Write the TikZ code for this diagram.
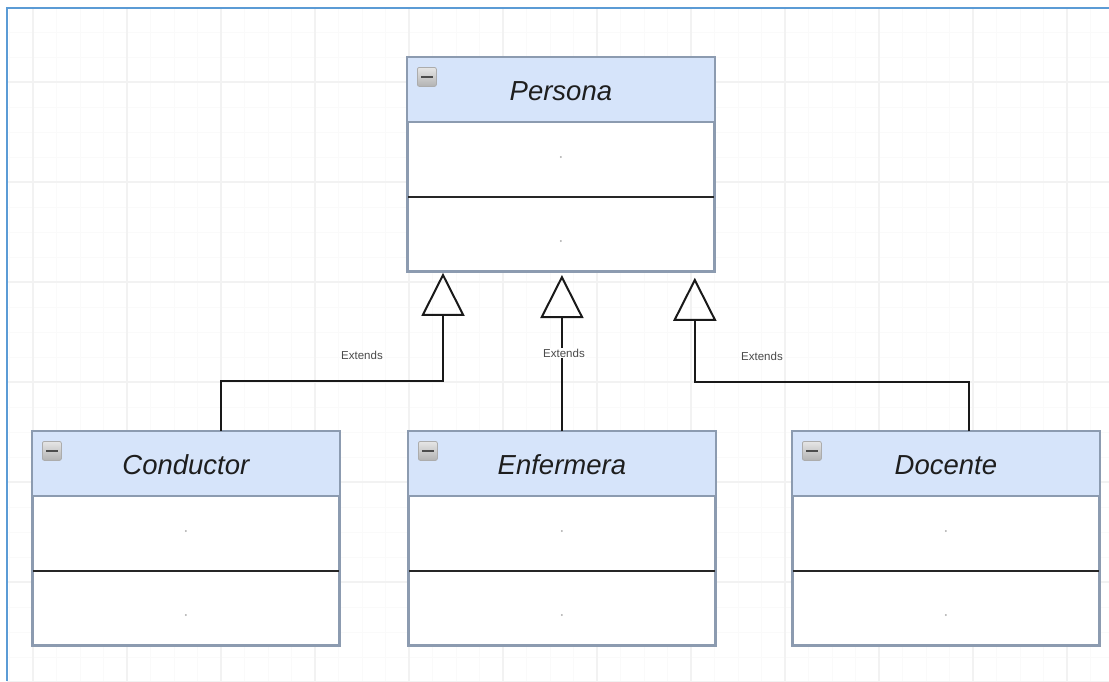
\documentclass[tikz,border=0pt]{standalone}
\usepackage{fontspec}
\setmainfont{Liberation Sans}
\usetikzlibrary{arrows.meta,calc}

\definecolor{headfill}{HTML}{D6E4FA}
\definecolor{boxline}{HTML}{8C9BB0}
\definecolor{framecol}{HTML}{5B9BD5}
\definecolor{textcol}{HTML}{1E1E1E}
\definecolor{labelcol}{HTML}{4A4A4A}

\tikzset{
  classbox/.style={draw=boxline, line width=1.8pt, fill=white, rectangle,
    minimum width=306pt, minimum height=213pt, inner sep=0pt, anchor=north west},
  headband/.style={fill=headfill},
  headline/.style={draw=boxline, line width=1.5pt},
  divider/.style={draw=black!85, line width=2pt},
  classtitle/.style={font=\fontsize{27.5}{30}\selectfont\itshape, text=textcol, inner sep=0pt},
  collapse/.style={rectangle, rounded corners=2pt, minimum size=19pt, inner sep=0pt,
    anchor=north west, top color=gray!20, bottom color=gray!60, draw=gray!65, line width=0.8pt},
  collapsedash/.style={draw=black!70, line width=2.4pt},
  slotdot/.style={fill=gray!70, circle, inner sep=0pt, minimum size=2pt},
  conn/.style={draw=black!90, line width=2pt},
  gen/.style={conn, -{Triangle[open, length=43pt, width=43pt, line width=2pt]}},
  extlabel/.style={font=\fontsize{11.5}{12}\selectfont, text=labelcol, inner sep=1pt},
  minorgrid/.style={draw=gray!4, line width=1pt},
  majorgrid/.style={draw=gray!10, line width=1.6pt},
  framebar/.style={draw=framecol, line width=2.2pt}
}

% one UML class: name, left, top, title
\newcommand\umlbox[4]{%
  \node[classbox] (#1) at (#2,#3) {};
  \fill[headband] (#1.north west) rectangle ($(#1.north east)+(0,65)$);
  \draw[headline] ($(#1.north west)+(0,65)$) -- ($(#1.north east)+(0,65)$);
  \draw[divider] ($(#1.north west)+(0,140)$) -- ($(#1.north east)+(0,140)$);
  \draw[draw=boxline, line width=1.8pt] (#1.north west) rectangle (#1.south east);
  \node[classtitle] (#1-title) at ($(#1.north)+(0,34)$) {#4};
  \node[collapse] (#1-icon) at ($(#1.north west)+(10,10)$) {};
  \draw[collapsedash] ($(#1-icon.west)+(4,0)$) -- ($(#1-icon.east)+(-4,0)$);
  \node[slotdot] (#1-attr) at ($(#1.north)+(0,100)$) {};
  \node[slotdot] (#1-ops) at ($(#1.north)+(0,184)$) {};
}

\begin{document}
\begin{tikzpicture}[x=1pt, y=-1pt]
  \useasboundingbox (0,0) rectangle (1109,681);
  \fill[white] (0,0) rectangle (1109,681);

  % background grid
  \foreach \gx in {0,...,46} { \draw[minorgrid] ({9.5+23.5*\gx},8) -- ({9.5+23.5*\gx},681); }
  \foreach \gy in {0,...,27} { \draw[minorgrid] (7,{7+25*\gy}) -- (1109,{7+25*\gy}); }
  \foreach \gx in {0,...,11} { \draw[majorgrid] ({33+94*\gx},8) -- ({33+94*\gx},681); }
  \foreach \gy in {0,...,6} { \draw[majorgrid] (7,{82+100*\gy}) -- (1109,{82+100*\gy}); }

  % page frame
  \draw[framebar] (7,681) -- (7,8) -- (1109,8);

  % classes
  \umlbox{persona}{407}{57}{Persona}
  \umlbox{conductor}{32}{431}{Conductor}
  \umlbox{enfermera}{408}{431}{Enfermera}
  \umlbox{docente}{792}{431}{Docente}

  % generalisation connectors
  \coordinate (tipL) at ($(persona.south west)+(36,1)$);
  \coordinate (tipM) at ($(enfermera.north)+(0,-156)$);
  \coordinate (tipR) at ($(persona.south east)+(-20,6)$);

  \draw[gen] ($(conductor.north)+(35,0)$) |- ($(tipL)+(0,108)$) -- (tipL);
  \draw[gen] (enfermera.north) -- (tipM);
  \draw[gen] ($(docente.north)+(23,0)$) |- ($(tipR)+(0,104)$) -- (tipR);

  \node[extlabel] (extL) at (362,355) {Extends};
  \node[extlabel, fill=white] (extM) at (564,353) {Extends};
  \node[extlabel] (extR) at (762,356) {Extends};
\end{tikzpicture}
\end{document}
